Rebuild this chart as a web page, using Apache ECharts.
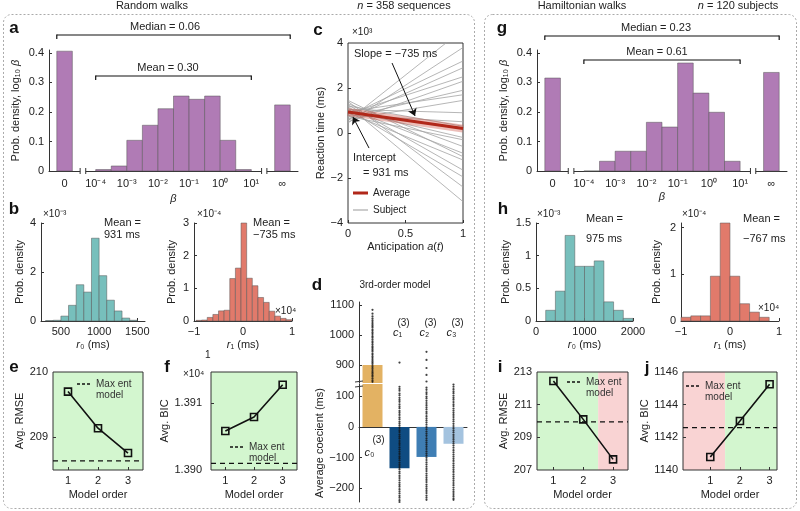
<!DOCTYPE html>
<html>
<head>
<meta charset="utf-8">
<script src="https://cdn.jsdelivr.net/npm/echarts@6/dist/echarts.min.js"></script>
<style>
html, body { margin: 0; padding: 0; background: #fff; }
#chart { width: 800px; height: 511px; }
</style>
</head>
<body>
<div id="chart"></div>
<script>
const FONT = '"Liberation Sans", Arial, Helvetica, sans-serif'
const PURPLE = '#b07bb5'
const TEAL = '#77bfbc'
const RED = '#e17a6b'
const GREEN_BG = '#d3f6cf'
const PINK_BG = '#f9d3d3'

// a / g : beta, half-decade bins from 1e-4 to 1e1, plus the 0 and inf bars
const betaTickPos = [-5, -4, -3, -2, -1, 0, 1, 2]
const betaTickLabels = ['0', '10⁻⁴', '10⁻³', '10⁻²', '10⁻¹', '10⁰', '10¹', '∞']
const aZero = 0.406
const aInf = 0.224
const aMid = [0.005, 0.017, 0.104, 0.155, 0.211, 0.254, 0.243, 0.254, 0.104, 0.005]
const gZero = 0.315
const gInf = 0.334
const gMid = [0, 0.033, 0.067, 0.067, 0.165, 0.149, 0.366, 0.264, 0.199, 0.033]

// b : r0 (x1e-3) and r1 (x1e-4, bins in units of 1e4 ms)
const r0Start = 300
const r0Step = 100
const r0Dens = [0.02, 0.03, 0.2, 0.64, 1.48, 1.18, 3.38, 1.85, 0.85, 0.41, 0.12, 0.03]
const r1Start = -0.96
const r1Step = 0.115
const r1Dens = [0.02, 0.03, 0.11, 0.2, 0.31, 0.33, 1.3, 1.62, 3.0, 1.31, 1.08, 0.72, 0.57, 0.3, 0.15, 0.08, 0.04]

// h
const hr0Start = 200
const hr0Step = 200
const hr0Dens = [0.164, 0.457, 1.31, 0.837, 0.837, 0.92, 0.293, 0.164, 0.04]
const hr1Start = -1
const hr1Step = 0.2
const hr1Dens = [0.08, 0.11, 0.11, 0.96, 2.1, 0.96, 0.37, 0.19, 0.08]

// c : reaction time vs anticipation (x1e3 ms)
const avgIntercept = 0.931
const avgEnd = 0.196
const subjIntercept = [0.55, 0.45, 0.75, 0.62, 0.85, 0.5, 0.7, 0.95, 0.6, 1.05, 0.8, 1.2, 1.0, 0.75, 1.3, 1.1, 1.45, 0.9, 1.25, 1.05, 1.4, 1.2]
const subjEnd = [4.6, 3.8, 3.2, 2.9, 2.5, 2.3, 1.9, 1.7, 1.45, 0.9, 0.5, 0.3, -0.2, -0.3, -0.6, -0.9, -1.05, -1.2, -1.65, -1.95, -2.4, -3.05]

// d : 3rd-order model coefficients
const coefMeans = [900, -135, -98, -55]
const coefColors = ['#e3b263', '#0f4c82', '#3f7eb4', '#a4c3df']
const c0Dots = [1084, 1071, 1062, 1055, 1049, 1043, 1037, 1031, 1026, 1019, 1014, 1008, 1003, 996, 991, 985, 979, 974, 968, 962, 957, 951, 946, 939, 934, 928, 923, 917, 911, 906, 900, 894, 889, 883, 877, 872, 866, 861, 855, 849, 844]
const c1Dots = [908, 131, 124, 118, 109, 103, 95, 88, 82, 74, 67, 61, 52, 46, 39, 31, 25, 17, 11, 4, -3, -11, -17, -25, -32, -38, -46, -53, -59, -67, -74, -81, -88, -96, -102, -109, -117, -124, -131, -138, -146, -152, -160, -167, -174, -182, -189, -195, -203, -210, -217, -225, -231, -239, -245]
const c2Dots = [944, 917, 890, 867, 845, 128, 121, 113, 107, 99, 93, 85, 78, 71, 64, 57, 49, 43, 35, 28, 21, 14, 7, -1, -8, -15, -22, -29, -37, -44, -51, -58, -65, -72, -80, -87, -94, -101, -108, -116, -123, -130, -137, -144, -152, -159, -166, -173, -180, -188, -195, -202, -209, -216, -224, -231, -238]
const c3Dots = [138, 131, 123, 116, 110, 102, 95, 89, 81, 74, 68, 60, 53, 46, 39, 32, 25, 18, 10, 3, -4, -11, -18, -26, -33, -40, -47, -54, -61, -68, -76, -83, -90, -97, -104, -111, -119, -126, -133, -140, -147, -155, -162, -169, -176, -183, -190, -198, -205, -212, -219, -226, -233, -238]

// e, f, i, j : model order comparison
const orders = [1, 2, 3]
const eRmse = [209.70, 209.14, 208.76]
const eMaxEnt = 208.64
const fBic = [13905.8, 13907.9, 13912.7]
const fMaxEnt = 13901.0
const iRmse = [212.45, 210.1, 207.65]
const iMaxEnt = 209.95
const jBic = [1140.8, 1143.0, 1145.25]
const jMaxEnt = 1142.6

const minusFmt = v => String(v).replace('-', '−')

function bins(start, step, vals) {
  return vals.map((v, k) => [start + k * step, start + (k + 1) * step, v])
}
function betaBins(zero, mid, inf) {
  return [[-5.25, -4.75, zero]].concat(bins(-4, 0.5, mid), [[1.75, 2.25, inf]])
}

function valAxis(gi, min, max, o) {
  o = o || {}
  return {
    gridIndex: gi, type: 'value', min: min, max: max,
    axisLine: { show: o.line !== false, onZero: !!o.onZero, lineStyle: { color: '#333', width: 1 } },
    axisTick: { show: !!o.ticks, inside: true, length: 3, customValues: o.ticks, lineStyle: { color: '#333' } },
    axisLabel: {
      show: !!o.labels, customValues: o.labels, formatter: o.fmt || minusFmt,
      margin: o.margin === undefined ? 5 : o.margin, color: '#222', fontSize: 11, fontFamily: FONT
    },
    splitLine: { show: false },
    name: o.name || '', nameLocation: 'middle', nameGap: o.nameGap || 20,
    nameTextStyle: {
      color: '#222', fontSize: 11, fontFamily: FONT,
      rich: {
        t: { color: '#222', fontSize: 11, fontFamily: FONT },
        i: { color: '#222', fontSize: 11, fontFamily: FONT, fontStyle: 'italic' }
      }
    }
  }
}

function hist(gi, data, color) {
  return {
    type: 'custom', xAxisIndex: gi, yAxisIndex: gi, data: data,
    encode: { x: [0, 1], y: 2 },
    renderItem: function (params, api) {
      const p0 = api.coord([api.value(0), api.value(2)])
      const p1 = api.coord([api.value(1), 0])
      return {
        type: 'rect',
        shape: { x: p0[0], y: p0[1], width: p1[0] - p0[0], height: p1[1] - p0[1] },
        style: { fill: color, stroke: '#555', lineWidth: 0.5 }
      }
    }
  }
}

function bgSeries(gi, spans, colors) {
  return {
    type: 'custom', xAxisIndex: gi, yAxisIndex: gi, z: -1, data: spans,
    encode: { x: [0, 1], y: [2, 3] },
    renderItem: function (params, api) {
      const p0 = api.coord([api.value(0), api.value(3)])
      const p1 = api.coord([api.value(1), api.value(2)])
      return {
        type: 'rect',
        shape: { x: p0[0], y: p0[1], width: p1[0] - p0[0], height: p1[1] - p0[1] },
        style: { fill: colors[params.dataIndex] }
      }
    }
  }
}

function modelSeries(gi, vals, maxEnt, xr) {
  return [{
    type: 'line', xAxisIndex: gi, yAxisIndex: gi, symbol: 'none',
    data: [[xr[0], maxEnt], [xr[1], maxEnt]],
    lineStyle: { color: '#111', width: 1.3, type: [5, 4] }
  }, {
    type: 'line', xAxisIndex: gi, yAxisIndex: gi, z: 3,
    data: orders.map((o, k) => [o, vals[k]]),
    symbol: 'rect', symbolSize: 7,
    lineStyle: { color: '#111', width: 1.6 },
    itemStyle: { color: 'rgba(255,255,255,0)', borderColor: '#111', borderWidth: 1.6 }
  }]
}

const boxGrid = { show: true, borderColor: '#333', borderWidth: 1, backgroundColor: 'transparent' }
const grids = [
  { left: 49, top: 50, width: 249, height: 121 },              // 0 a
  { left: 41, top: 223, width: 104, height: 98 },              // 1 b r0
  { left: 194, top: 223, width: 98, height: 98 },              // 2 b r1
  Object.assign({ left: 348, top: 43, width: 115, height: 180 }, boxGrid), // 3 c
  { left: 359, top: 302, width: 108, height: 81 },             // 4 d upper
  { left: 359, top: 384, width: 108, height: 118 },            // 5 d lower
  Object.assign({ left: 53, top: 372, width: 90, height: 98 }, boxGrid),   // 6 e
  Object.assign({ left: 211, top: 372, width: 86, height: 98 }, boxGrid),  // 7 f
  { left: 537, top: 50, width: 250, height: 121 },             // 8 g
  { left: 536, top: 223, width: 97, height: 98 },              // 9 h r0
  { left: 681, top: 223, width: 98, height: 98 },              // 10 h r1
  Object.assign({ left: 537, top: 372, width: 91, height: 98 }, boxGrid),  // 11 i
  Object.assign({ left: 683, top: 372, width: 94, height: 98 }, boxGrid)   // 12 j
].map(g => Object.assign({ outerBoundsMode: 'none', containLabel: false }, g))

const betaFmt = v => betaTickLabels[betaTickPos.indexOf(Math.round(v))]
const betaName = '{t|Prob. density, log₁₀ }{i|β}'
const eX = [0.5, 3.5], fX = [0.5, 3.5], iX = [0.45, 3.5], jX = [0.08, 3.25]

const xAxes = [
  valAxis(0, -5.5, 2.5, { labels: betaTickPos, fmt: betaFmt, margin: 7, name: '{i|β}', nameGap: 22 }),
  valAxis(1, 240, 1600, { labels: [500, 1000, 1500], ticks: [500, 1000, 1500], name: '{i|r}₀ (ms)', nameGap: 18 }),
  valAxis(2, -1, 1, { labels: [-1, 0, 1], ticks: [-1, 0, 1], name: '{i|r}₁ (ms)', nameGap: 18 }),
  valAxis(3, 0, 1, { line: false, labels: [0, 0.5, 1], ticks: [0, 0.5, 1], name: 'Anticipation {i|a}({i|t})', nameGap: 18 }),
  valAxis(4, 0.5, 4.5, { line: false }),
  valAxis(5, 0.5, 4.5, { onZero: true }),
  valAxis(6, eX[0], eX[1], { line: false, labels: orders, ticks: orders, name: 'Model order', nameGap: 19 }),
  valAxis(7, fX[0], fX[1], { line: false, labels: orders, ticks: orders, name: 'Model order', nameGap: 19 }),
  valAxis(8, -5.5, 2.5, { labels: betaTickPos, fmt: betaFmt, margin: 7, name: '{i|β}', nameGap: 20 }),
  valAxis(9, 0, 2000, { labels: [0, 1000, 2000], ticks: [0, 1000, 2000], name: '{i|r}₀ (ms)', nameGap: 18 }),
  valAxis(10, -1, 1, { labels: [-1, 0, 1], ticks: [-1, 0, 1], name: '{i|r}₁ (ms)', nameGap: 18 }),
  valAxis(11, iX[0], iX[1], { line: false, labels: orders, ticks: orders, name: 'Model order', nameGap: 19 }),
  valAxis(12, jX[0], jX[1], { line: false, labels: orders, ticks: orders, name: 'Model order', nameGap: 19 })
]
const yAxes = [
  valAxis(0, 0, 0.41, { labels: [0, 0.1, 0.2, 0.3, 0.4], ticks: [0.1, 0.2, 0.3, 0.4], name: betaName, nameGap: 28 }),
  valAxis(1, 0, 4, { labels: [0, 2, 4], ticks: [2, 4], name: 'Prob. density', nameGap: 16 }),
  valAxis(2, 0, 3, { labels: [0, 1, 2, 3], ticks: [1, 2, 3], name: 'Prob. density', nameGap: 17 }),
  valAxis(3, -4, 4, { line: false, labels: [-4, -2, 0, 2, 4], ticks: [-2, 0, 2], name: 'Reaction time (ms)', nameGap: 21 }),
  valAxis(4, 840, 1110, { labels: [900, 1000, 1100], ticks: [900, 1000, 1100] }),
  valAxis(5, -245, 140, { labels: [-200, -100, 0, 100], ticks: [-200, -100, 0, 100], name: 'Average coecient (ms)', nameGap: 32 }),
  valAxis(6, 208.5, 210, { line: false, labels: [209, 210], ticks: [209], name: 'Avg. RMSE', nameGap: 26 }),
  valAxis(7, 13900, 13914.6, { line: false, labels: [13900, 13910], ticks: [13910], fmt: v => (v / 10000).toFixed(3), margin: 9, name: 'Avg. BIC', nameGap: 33 }),
  valAxis(8, 0, 0.41, { labels: [0, 0.1, 0.2, 0.3, 0.4], ticks: [0.1, 0.2, 0.3, 0.4], name: betaName, nameGap: 28 }),
  valAxis(9, 0, 1.5, { labels: [0, 0.5, 1, 1.5], ticks: [0.5, 1, 1.5], name: 'Prob. density', nameGap: 20 }),
  valAxis(10, 0, 2.1, { labels: [0, 1, 2], ticks: [1, 2], name: 'Prob. density', nameGap: 19 }),
  valAxis(11, 207, 213, { line: false, labels: [207, 209, 211, 213], ticks: [209, 211], name: 'Avg. RMSE', nameGap: 27 }),
  valAxis(12, 1140, 1146, { line: false, labels: [1140, 1142, 1144, 1146], ticks: [1142, 1144], name: 'Avg. BIC', nameGap: 29 })
]

const series = [
  hist(0, betaBins(aZero, aMid, aInf), PURPLE),
  hist(8, betaBins(gZero, gMid, gInf), PURPLE),
  hist(1, bins(r0Start, r0Step, r0Dens), TEAL),
  hist(2, bins(r1Start, r1Step, r1Dens), RED),
  hist(9, bins(hr0Start, hr0Step, hr0Dens), TEAL),
  hist(10, bins(hr1Start, hr1Step, hr1Dens), RED)
]

// c
subjIntercept.forEach((b, k) => {
  series.push({
    type: 'line', xAxisIndex: 3, yAxisIndex: 3, symbol: 'none',
    data: [[0, b], [1, subjEnd[k]]],
    lineStyle: { color: '#a3a3a3', width: 0.8 }
  })
})
series.push({
  type: 'line', xAxisIndex: 3, yAxisIndex: 3, symbol: 'none', z: 3,
  data: [[0, avgIntercept], [1, avgEnd]],
  lineStyle: { color: 'rgba(200,70,55,0.35)', width: 8 }
})
series.push({
  type: 'line', xAxisIndex: 3, yAxisIndex: 3, symbol: 'none', z: 4,
  data: [[0, avgIntercept], [1, avgEnd]],
  lineStyle: { color: '#b1281a', width: 3 },
  markLine: {
    silent: true, symbol: ['none', 'arrow'], symbolSize: 7, label: { show: false },
    lineStyle: { color: '#111', width: 1, type: 'solid' },
    data: [
      [{ coord: [0.383, 3.11] }, { coord: [0.583, 0.76] }],
      [{ coord: [0.183, -0.67] }, { coord: [0.043, 0.71] }]
    ]
  }
})

// d (broken axis: the same bars and dots in both grids)
const allDots = [c0Dots, c1Dots, c2Dots, c3Dots]
;[4, 5].forEach(gi => {
  series.push({
    type: 'bar', xAxisIndex: gi, yAxisIndex: gi, barWidth: 20,
    data: coefMeans.map((v, k) => ({ value: [k + 1, v], itemStyle: { color: coefColors[k] } }))
  })
  const pts = []
  allDots.forEach((arr, k) => arr.forEach(v => pts.push([k + 1, v])))
  series.push({
    type: 'scatter', xAxisIndex: gi, yAxisIndex: gi, z: 4,
    data: pts, symbolSize: 2.2, itemStyle: { color: '#111' }
  })
})

// e f i j
series.push(bgSeries(6, [[eX[0], eX[1], 208.5, 210]], [GREEN_BG]))
series.push(bgSeries(7, [[fX[0], fX[1], 13900, 13914.6]], [GREEN_BG]))
series.push(bgSeries(11, [[iX[0], 2.5, 207, 213], [2.5, iX[1], 207, 213]], [GREEN_BG, PINK_BG]))
series.push(bgSeries(12, [[jX[0], 1.5, 1140, 1146], [1.5, jX[1], 1140, 1146]], [PINK_BG, GREEN_BG]))
series.push(...modelSeries(6, eRmse, eMaxEnt, eX))
series.push(...modelSeries(7, fBic, fMaxEnt, fX))
series.push(...modelSeries(11, iRmse, iMaxEnt, iX))
series.push(...modelSeries(12, jBic, jMaxEnt, jX))

const chart = echarts.init(document.getElementById('chart'))
chart.setOption({
  animation: false,
  textStyle: { fontFamily: FONT },
  grid: grids,
  xAxis: xAxes,
  yAxis: yAxes,
  series: series
})

// annotations
const G = []
function txt(x, y, s, o) {
  o = o || {}
  G.push({
    type: 'text', x: x, y: y, rotation: o.rot || 0, z: 10,
    style: {
      text: s, fill: o.color || '#222',
      font: (o.weight || 'normal') + ' ' + (o.size || 11) + 'px ' + FONT,
      align: o.align || 'left', verticalAlign: 'middle',
      rich: {
        i: { fontStyle: 'italic', fontSize: o.size || 11, fontFamily: FONT, fill: '#222' },
        t: { fontSize: o.size || 11, fontFamily: FONT, fill: '#222' }
      }
    }
  })
}
function seg(x1, y1, x2, y2, o) {
  o = o || {}
  G.push({
    type: 'line', z: 10, shape: { x1: x1, y1: y1, x2: x2, y2: y2 },
    style: { stroke: o.color || '#111', lineWidth: o.w || 1, lineDash: o.dash || null }
  })
}
function rect(x, y, w, h, fill) {
  G.push({ type: 'rect', z: 9, shape: { x: x, y: y, width: w, height: h }, style: { fill: fill } })
}

// dashed frames
G.push({ type: 'rect', z: 1, shape: { x: 3.5, y: 14.5, width: 471, height: 494, r: 8 }, style: { fill: 'none', stroke: '#aaa', lineWidth: 1, lineDash: [2, 2] } })
G.push({ type: 'rect', z: 1, shape: { x: 484.5, y: 14.5, width: 312, height: 494, r: 8 }, style: { fill: 'none', stroke: '#aaa', lineWidth: 1, lineDash: [2, 2] } })

txt(152, 6, 'Random walks', { align: 'center' })
txt(404, 6, '{i|n} = 358 sequences', { align: 'center' })
txt(582, 6, 'Hamiltonian walks', { align: 'center' })
txt(738, 6, '{i|n} = 120 subjects', { align: 'center' })

const letters = [['a', 14, 28], ['b', 14, 209], ['c', 318, 30], ['d', 317, 285], ['e', 14, 367], ['f', 167, 367],
  ['g', 502, 28], ['h', 503, 209], ['i', 500, 367], ['j', 647, 368]]
letters.forEach(l => txt(l[1], l[2], l[0], { align: 'center', weight: 'bold', size: 17, color: '#111' }))

// beta panels: brackets and axis breaks
function betaDecor(gi, medY, meanY, medTxt, meanTxt, medTx, meanTx) {
  const px = v => chart.convertToPixel({ xAxisIndex: gi }, v)
  const y0 = chart.convertToPixel({ yAxisIndex: gi }, 0)
  ;[[medY, -5.25, 2.25], [meanY, -4, 1]].forEach(b => {
    const xa = px(b[1]), xb = px(b[2])
    seg(xa, b[0], xb, b[0], { w: 1.2 })
    seg(xa, b[0] - 0.5, xa, b[0] + 4, { w: 1.2 })
    seg(xb, b[0] - 0.5, xb, b[0] + 4, { w: 1.2 })
  })
  txt(medTx, medY - 8, medTxt, { align: 'center' })
  txt(meanTx, meanY - 8, meanTxt, { align: 'center' })
  ;[[-4.5, -4.32], [1.33, 1.5]].forEach(br => {
    const xa = px(br[0]), xb = px(br[1])
    rect(xa, y0 - 2, xb - xa, 4, '#fff')
    seg(xa, y0 - 3, xa, y0 + 3, { color: '#333' })
    seg(xb, y0 - 3, xb, y0 + 3, { color: '#333' })
  })
}
betaDecor(0, 35, 76, 'Median = 0.06', 'Mean = 0.30', 165, 168)
betaDecor(8, 36, 60, 'Median = 0.23', 'Mean = 0.61', 656, 657)

// b / h texts
txt(43, 214, '×10⁻³', { size: 10 })
txt(197, 214, '×10⁻⁴', { size: 10 })
txt(275, 311, '×10⁴', { size: 10 })
txt(104, 223, 'Mean =')
txt(104, 235, '931 ms')
txt(253, 223, 'Mean =')
txt(253, 235, '−735 ms')
txt(537, 214, '×10⁻³', { size: 10 })
txt(682, 214, '×10⁻⁴', { size: 10 })
txt(758, 308, '×10⁴', { size: 10 })
txt(586, 219, 'Mean =')
txt(586, 239, '975 ms')
txt(743, 219, 'Mean =')
txt(743, 239, '−767 ms')

// c texts and legend
txt(352, 32, '×10³', { size: 10 })
txt(354, 54, 'Slope = −735 ms')
txt(353, 158, 'Intercept')
txt(363, 173, '= 931 ms')
seg(353, 193, 368, 193, { color: '#b1281a', w: 3 })
txt(373, 193, 'Average', { size: 10 })
seg(353, 210, 368, 210, { color: '#999', w: 1 })
txt(373, 210, 'Subject', { size: 10 })

// d texts and axis break
txt(395, 285, '3rd-order model', { align: 'center', size: 10 })
seg(355, 382, 363, 381, { color: '#333' })
seg(355, 387, 363, 386, { color: '#333' })
const dCenters = [1, 2, 3, 4].map(v => chart.convertToPixel({ xAxisIndex: 5 }, v))
txt(dCenters[0] - 3, 453, '{i|c}₀', { align: 'center' })
txt(dCenters[0] + 6, 440, '(3)', { align: 'center', size: 10 })
;[1, 2, 3].forEach(k => {
  txt(dCenters[k] - 2, 333, '{i|c}' + ['₁', '₂', '₃'][k - 1], { align: 'center' })
  txt(dCenters[k] + 4, 323, '(3)', { align: 'center', size: 10 })
})

// e f i j legends
function maxEntLegend(x, y) {
  seg(x, y, x + 14, y, { dash: [3, 2], w: 1.3 })
  txt(x + 19, y, 'Max ent', { size: 10, color: '#333' })
  txt(x + 19, y + 11, 'model', { size: 10, color: '#333' })
}
maxEntLegend(77, 384)
maxEntLegend(230, 447)
maxEntLegend(567, 382)
maxEntLegend(686, 386)
txt(183, 374, '×10⁴', { size: 10 })
txt(205, 355, '1', { size: 10 })

chart.setOption({ graphic: G })
</script>
</body>
</html>
